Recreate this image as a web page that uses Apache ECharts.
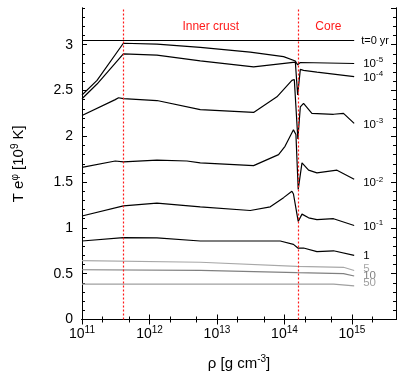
<!DOCTYPE html>
<html>
<head>
<meta charset="utf-8">
<script src="https://cdn.jsdelivr.net/npm/echarts@6/dist/echarts.min.js"></script>
<style>
  html, body { margin: 0; padding: 0; background: #fff; }
  #chart { width: 397px; height: 376px; }
</style>
</head>
<body>
<div id="chart"></div>
<script>
// density ticks (g cm^-3)
const xMajorTicks = [1e11, 1e12, 1e13, 1e14, 1e15]
const xMinorTicks = [2e11, 5e11, 2e12, 5e12, 2e13, 5e13, 2e14, 5e14, 2e15]
const dripDensity = 4.1e11
const coreDensity = 1.6e14

// redshifted temperature profiles [rho, T e^phi (1e9 K)]
const t0 = [[1e11, 3.045], [1.08e15, 3.045]]
const tE5 = [[1e11, 2.45], [1.67e11, 2.61], [4.1e11, 3.015], [1.29e12, 3.005], [5.66e12, 2.97],
  [3.11e13, 2.918], [9.71e13, 2.869], [1.45e14, 2.822], [1.56e14, 2.78], [1.72e14, 2.805], [1.08e15, 2.794]]
const tE4 = [[1e11, 2.41], [1.67e11, 2.57], [4.1e11, 2.90], [1.29e12, 2.886], [5.66e12, 2.822],
  [3.49e13, 2.757], [1.45e14, 2.81], [1.57e14, 2.45], [1.72e14, 2.73], [1.92e14, 2.72],
  [3.03e14, 2.70], [1.08e15, 2.65]]
const tE3 = [[1e11, 2.226], [3.11e11, 2.40], [3.48e11, 2.42], [4.1e11, 2.41], [1.29e12, 2.39],
  [5.66e12, 2.29], [3.49e13, 2.26], [7.74e13, 2.43], [1.29e14, 2.61], [1.40e14, 2.62],
  [1.58e14, 1.97], [1.72e14, 2.32], [1.92e14, 2.36], [2.55e14, 2.25], [5.34e14, 2.24],
  [7.5e14, 2.25], [1.08e15, 2.14]]
const tE2 = [[1e11, 1.66], [3.11e11, 1.73], [4.1e11, 1.72], [1.29e12, 1.74], [3.59e12, 1.73],
  [5.66e12, 1.71], [3.49e13, 1.68], [8.18e13, 1.80], [1.02e14, 1.89], [1.36e14, 2.07],
  [1.48e14, 2.02], [1.6e14, 1.42], [1.82e14, 1.71], [1.92e14, 1.70], [2.28e14, 1.63],
  [3.03e14, 1.60], [6.0e14, 1.63], [1.08e15, 1.53]]
const tE1 = [[1e11, 1.13], [4.1e11, 1.24], [1.29e12, 1.27], [5.66e12, 1.23], [3.11e13, 1.19],
  [6.17e13, 1.23], [9.71e13, 1.33], [1.29e14, 1.40], [1.36e14, 1.37], [1.6e14, 1.07],
  [1.82e14, 1.15], [2.28e14, 1.11], [3.03e14, 1.09], [5.34e14, 1.10], [1.08e15, 1.026]]
const t1 = [[1e11, 0.857], [4.1e11, 0.893], [1.29e12, 0.89], [5.66e12, 0.857], [8.67e13, 0.857],
  [1.36e14, 0.82], [1.58e14, 0.78], [1.92e14, 0.78], [3.03e14, 0.74], [5.34e14, 0.75],
  [1.08e15, 0.70]]
const t5 = [[1e11, 0.643], [5.66e12, 0.625], [1.53e14, 0.58], [7.5e14, 0.57], [1.08e15, 0.535]]
const t10 = [[1e11, 0.543], [5.66e12, 0.536], [1.53e14, 0.511], [7.5e14, 0.50], [1.08e15, 0.475]]
const t50 = [[1e11, 0.386], [5.34e14, 0.386], [1.08e15, 0.367]]

const curves = [
  { name: 't=0 yr', data: t0, color: '#000', text: 't=0 yr', dy: 0, size: 11, gap: 7 },
  { name: '1e-5', data: tE5, color: '#000', text: '{b|10}{s|-5}', dy: 0 },
  { name: '1e-4', data: tE4, color: '#000', text: '{b|10}{s|-4}', dy: 1 },
  { name: '1e-3', data: tE3, color: '#000', text: '{b|10}{s|-3}', dy: 1 },
  { name: '1e-2', data: tE2, color: '#000', text: '{b|10}{s|-2}', dy: 4 },
  { name: '1e-1', data: tE1, color: '#000', text: '{b|10}{s|-1}', dy: 1 },
  { name: '1', data: t1, color: '#000', text: '1', dy: 0 },
  { name: '5', data: t5, color: '#a8a8a8', text: '5', dy: -2 },
  { name: '10', data: t10, color: '#808080', text: '10', dy: 0 },
  { name: '50', data: t50, color: '#a0a0a0', text: '50', dy: -3 }
]

const font = 'Liberation Sans'
const supRich = {
  b: { fontFamily: font, fontSize: 14, color: '#000' },
  s: { fontFamily: font, fontSize: 10, color: '#000', verticalAlign: 'top', padding: [0, 0, 8, 0] }
}

function xAxisDef (position, ticks, len, labels) {
  return {
    type: 'log',
    min: 1e11,
    max: 4.5e15,
    position: position,
    axisLine: { show: true, lineStyle: { color: '#000', width: 1 } },
    axisTick: { show: true, inside: true, length: len, customValues: ticks, lineStyle: { color: '#000' } },
    axisLabel: labels
      ? {
          show: true,
          customValues: xMajorTicks,
          margin: 6,
          formatter: function (v) {
            return '{b|10}{s|' + Math.round(Math.log10(v)) + '}'
          },
          rich: supRich
        }
      : { show: false },
    splitLine: { show: false }
  }
}

function yAxisDef (position, interval, len, labels) {
  return {
    type: 'value',
    min: 0,
    max: 3.4,
    interval: interval,
    position: position,
    axisLine: { show: true, lineStyle: { color: '#000', width: 1 } },
    axisTick: { show: true, inside: true, length: len, lineStyle: { color: '#000' } },
    axisLabel: labels
      ? {
          show: true,
          margin: 9,
          fontFamily: font,
          fontSize: 14,
          color: '#000',
          showMaxLabel: false
        }
      : { show: false },
    splitLine: { show: false }
  }
}

const xAxes = [
  xAxisDef('bottom', xMajorTicks, 5, true),
  xAxisDef('bottom', xMinorTicks, 3, false),
  xAxisDef('top', xMajorTicks, 5, false),
  xAxisDef('top', xMinorTicks, 3, false)
]
xAxes[0].name = 'ρ [g cm{s|-3}]'
xAxes[0].nameLocation = 'middle'
xAxes[0].nameGap = 35
xAxes[0].nameTextStyle = {
  fontFamily: font, fontSize: 15, color: '#000',
  rich: { s: { fontFamily: font, fontSize: 10, color: '#000', verticalAlign: 'top', padding: [0, 0, 8, 0] } }
}

const yAxes = [
  yAxisDef('left', 0.5, 5, true),
  yAxisDef('left', 0.1, 3, false),
  yAxisDef('right', 0.5, 5, false),
  yAxisDef('right', 0.1, 3, false)
]
yAxes[0].name = 'T e{s|φ} [10{s|9} K]'
yAxes[0].nameLocation = 'middle'
yAxes[0].nameGap = 54
yAxes[0].nameTextStyle = {
  fontFamily: font, fontSize: 15, color: '#000',
  rich: { s: { fontFamily: font, fontSize: 10, color: '#000', verticalAlign: 'top', padding: [0, 0, 8, 0] } }
}

const boundaryStyle = { color: '#ff1a1a', type: [2, 2], width: 1.2 }

const series = curves.map(function (c, i) {
  const size = c.size || 11.5
  const s = {
    name: c.name,
    type: 'line',
    data: c.data,
    symbol: 'none',
    smooth: false,
    lineStyle: { color: c.color, width: 1.2 },
    endLabel: {
      show: true,
      distance: c.gap || 9,
      offset: [0, c.dy],
      formatter: c.text,
      fontFamily: font,
      fontSize: size,
      color: c.color,
      rich: {
        b: { fontFamily: font, fontSize: size, color: c.color },
        s: { fontFamily: font, fontSize: 8, color: c.color, verticalAlign: 'top', padding: [0, 0, 7, 0] }
      }
    },
    z: 3
  }
  if (i === 0) {
    // crust / core boundaries
    s.markLine = {
      silent: true,
      symbol: 'none',
      label: { show: false },
      lineStyle: boundaryStyle,
      data: [
        { xAxis: dripDensity, lineStyle: boundaryStyle },
        { xAxis: coreDensity, lineStyle: boundaryStyle }
      ]
    }
    s.markArea = {
      silent: true,
      itemStyle: { color: 'rgba(0,0,0,0)' },
      label: { show: true, position: 'insideTop', distance: 13, color: '#ff1a1a', fontFamily: font, fontSize: 12 },
      data: [
        [{ name: 'Inner crust', xAxis: dripDensity }, { xAxis: coreDensity }],
        [{ name: 'Core', xAxis: coreDensity }, { xAxis: 1.25e15 }]
      ]
    }
  }
  return s
})

const myChart = echarts.init(document.getElementById('chart'))
myChart.setOption({
  animation: false,
  backgroundColor: '#fff',
  grid: { left: 82, right: 1, top: 8, bottom: 51, containLabel: false },
  xAxis: xAxes,
  yAxis: yAxes,
  series: series
})
</script>
</body>
</html>
